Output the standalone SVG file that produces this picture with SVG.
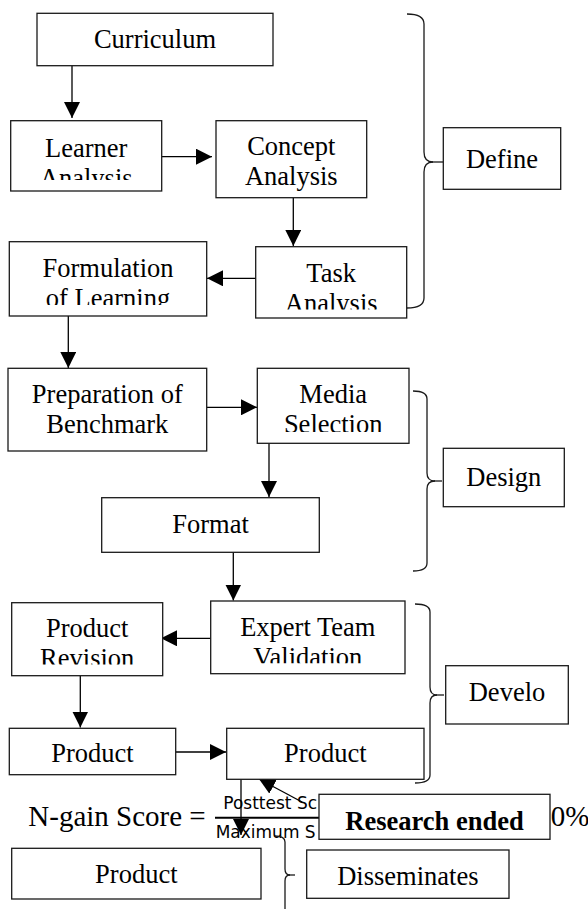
<svg xmlns="http://www.w3.org/2000/svg" width="588" height="909" viewBox="0 0 588 909">
<style>
.box{fill:#fff;stroke:#1a1a1a;stroke-width:1.3}
.t{font-family:"Liberation Serif","Times New Roman",serif;font-size:26.5px;text-anchor:middle;fill:#000}
.b{font-weight:bold}
.c{fill:none;stroke:#000;stroke-width:1.3}
.br{fill:none;stroke:#1a1a1a;stroke-width:1.3}
.eq{font-family:"Liberation Serif","Times New Roman",serif;font-size:29px;fill:#000}
.frac{font-family:"DejaVu Sans",sans-serif;font-size:17px;fill:#000}
</style>
<defs>
<marker id="ah" viewBox="0 0 16 16" refX="16" refY="8" markerWidth="16" markerHeight="16" markerUnits="userSpaceOnUse" orient="auto">
<path d="M0,0 L16,8 L0,16 z" fill="#000"/>
</marker>
<clipPath id="cLearner"><rect x="10" y="120" width="152" height="60"/></clipPath>
<clipPath id="cTask"><rect x="255" y="246" width="152" height="63.5"/></clipPath>
<clipPath id="cForm"><rect x="9" y="241" width="198" height="64"/></clipPath>
<clipPath id="cMedia"><rect x="257" y="368" width="152" height="64"/></clipPath>
<clipPath id="cExpert"><rect x="210" y="600" width="195" height="63.3"/></clipPath>
<clipPath id="cRev"><rect x="11" y="602" width="152" height="62.5"/></clipPath>
</defs>

<g id="equation">
<text class="eq" x="28.3" y="826">N-gain Score =</text>
<text class="frac" x="223.3" y="809.3">Posttest Sc</text>
<line x1="215" y1="817.7" x2="320" y2="817.7" stroke="#000" stroke-width="2"/>
<text class="frac" x="215.7" y="838.3">Maximum S</text>
<text class="eq" x="550.7" y="826" font-size="28.5">0%</text>
</g>

<g id="connectors">
<line class="c" x1="72" y1="66" x2="72" y2="118" marker-end="url(#ah)"/>
<line class="c" x1="162" y1="156.7" x2="212" y2="156.7" marker-end="url(#ah)"/>
<line class="c" x1="293.3" y1="198" x2="293.3" y2="246" marker-end="url(#ah)"/>
<line class="c" x1="256" y1="278.3" x2="207" y2="278.3" marker-end="url(#ah)"/>
<line class="c" x1="68.3" y1="316" x2="68.3" y2="368" marker-end="url(#ah)"/>
<line class="c" x1="207" y1="407.3" x2="257" y2="407.3" marker-end="url(#ah)"/>
<line class="c" x1="269" y1="443.3" x2="269" y2="497" marker-end="url(#ah)"/>
<line class="c" x1="233.3" y1="552.3" x2="233.3" y2="600.5" marker-end="url(#ah)"/>
<line class="c" x1="210.7" y1="638.3" x2="161" y2="638.3" marker-end="url(#ah)"/>
<line class="c" x1="80.3" y1="675.7" x2="80.3" y2="727.5" marker-end="url(#ah)"/>
<line class="c" x1="175.7" y1="752" x2="226" y2="752" marker-end="url(#ah)"/>
<line class="c" x1="241" y1="779.3" x2="241" y2="835" marker-end="url(#ah)"/>
<line class="c" x1="302" y1="802" x2="259" y2="779" marker-end="url(#ah)"/>
<!-- braces -->
<path class="br" d="M407,14 Q424,14 424,24 V152 Q424,162 433,162 Q424,162 424,172 V298 Q424,308 407,308"/>
<line class="br" x1="432" y1="162" x2="443" y2="162" stroke-width="1.8"/>
<path class="br" d="M413,391 Q427,391 427,399 V473 Q427,481 435,481 Q427,481 427,489 V563 Q427,571 413,571"/>
<line class="br" x1="434" y1="481" x2="442" y2="481" stroke-width="1.8"/>
<path class="br" d="M415,604 Q430,604 430,612 V687 Q430,695 437,695 Q430,695 430,703 V775 Q430,783 415,783"/>
<line class="br" x1="436" y1="695" x2="444" y2="695" stroke-width="1.8"/>
<path class="br" d="M275,836 Q285,836 285,842 V869 Q285,875 290,875 Q285,875 285,881 V930"/>
<line class="br" x1="289" y1="875" x2="295" y2="875" stroke-width="1.8"/>
</g>

<g id="curriculum">
<rect class="box" x="37" y="13.3" width="236" height="52.4"/>
<text class="t" x="155" y="48.3">Curriculum</text>
</g>
<g id="learner-analysis">
<rect class="box" x="10.7" y="120.7" width="151" height="70.3"/>
<g clip-path="url(#cLearner)">
<text class="t" x="86.2" y="156.7">Learner</text>
<text class="t" x="86.2" y="186.7">Analysis</text>
</g>
</g>
<g id="concept-analysis">
<rect class="box" x="216" y="120.7" width="150.7" height="77"/>
<text class="t" x="291.3" y="155">Concept</text>
<text class="t" x="291.3" y="185">Analysis</text>
</g>
<g id="task-analysis">
<rect class="box" x="255.7" y="246.7" width="151" height="71.3"/>
<g clip-path="url(#cTask)">
<text class="t" x="331.2" y="281.7">Task</text>
<text class="t" x="331.2" y="311.7">Analysis</text>
</g>
</g>
<g id="formulation">
<rect class="box" x="9.3" y="241.7" width="197.4" height="74.3"/>
<g clip-path="url(#cForm)">
<text class="t" x="108" y="277.3">Formulation</text>
<text class="t" x="108" y="307.3">of Learning</text>
</g>
</g>
<g id="preparation">
<rect class="box" x="8" y="368.3" width="198.7" height="82.7"/>
<text class="t" x="107.3" y="403.3">Preparation of</text>
<text class="t" x="107.3" y="433.3">Benchmark</text>
</g>
<g id="media-selection">
<rect class="box" x="257.3" y="368.3" width="151.7" height="75"/>
<g clip-path="url(#cMedia)">
<text class="t" x="333.2" y="402.7">Media</text>
<text class="t" x="333.2" y="432.7">Selection</text>
</g>
</g>
<g id="format">
<rect class="box" x="101.7" y="497.7" width="217.6" height="54.6"/>
<text class="t" x="210.5" y="532.7">Format</text>
</g>
<g id="expert-validation">
<rect class="box" x="210.7" y="601" width="194.3" height="72.7"/>
<g clip-path="url(#cExpert)">
<text class="t" x="307.8" y="636">Expert Team</text>
<text class="t" x="307.8" y="666">Validation</text>
</g>
</g>
<g id="product-revision">
<rect class="box" x="11.7" y="602.7" width="151" height="73"/>
<g clip-path="url(#cRev)">
<text class="t" x="87.2" y="636.7">Product</text>
<text class="t" x="87.2" y="666.7">Revision</text>
</g>
</g>
<g id="product-left">
<rect class="box" x="9.3" y="728.3" width="166.4" height="46.4"/>
<text class="t" x="92.5" y="761.7">Product</text>
</g>
<g id="product-right">
<rect class="box" x="226.7" y="728.3" width="197.3" height="51"/>
<text class="t" x="325.3" y="761.7">Product</text>
</g>
<g id="define">
<rect class="box" x="443.3" y="127.7" width="117.4" height="61.6"/>
<text class="t" x="502" y="168.3">Define</text>
</g>
<g id="design">
<rect class="box" x="443.3" y="448.3" width="121" height="58.4"/>
<text class="t" x="503.8" y="486">Design</text>
</g>
<g id="develop">
<rect class="box" x="445.7" y="665.7" width="122.6" height="58.3"/>
<text class="t" x="507" y="700.7">Develo</text>
</g>
<g id="research-ended">
<rect class="box" x="319" y="794.3" width="231" height="45"/>
<text class="t b" x="434.5" y="830">Research ended</text>
</g>
<g id="product-bottom">
<rect class="box" x="11.7" y="848.3" width="249.3" height="50.7"/>
<text class="t" x="136.3" y="883.3">Product</text>
</g>
<g id="disseminates">
<rect class="box" x="306.7" y="850" width="202.3" height="48.3"/>
<text class="t" x="407.8" y="885">Disseminates</text>
</g>
</svg>
